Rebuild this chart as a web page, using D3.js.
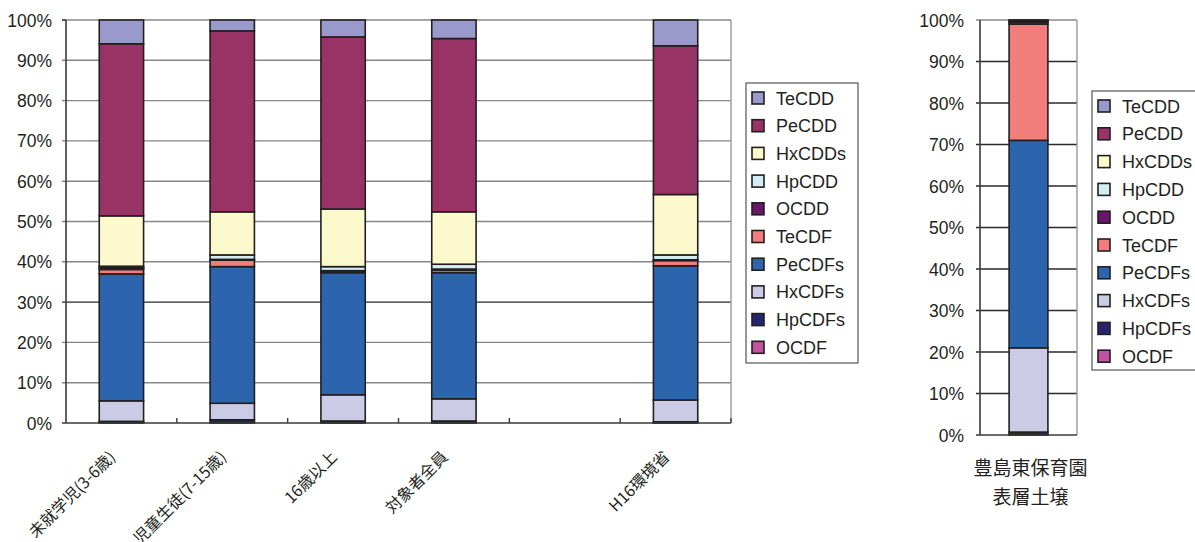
<!DOCTYPE html>
<html><head><meta charset="utf-8">
<script src="https://cdn.jsdelivr.net/npm/d3@7/dist/d3.min.js"></script>
<style>
body{margin:0;background:#fff;}
svg{display:block;}
text{fill:#231F20;}
</style></head>
<body>
<svg id="c" width="1195" height="542"></svg>
<script>
// ---------- data ----------
const categories = ["未就学児(3-6歳)", "児童生徒(7-15歳)", "16歳以上", "対象者全員", "", "H16環境省"];
// series listed bottom-to-top of stack (values in % of total)
const seriesNames = ["OCDF", "HpCDFs", "HxCDFs", "PeCDFs", "TeCDF", "OCDD", "HpCDD", "HxCDDs", "PeCDD", "TeCDD"];
const OCDF   = [0.1, 0.1, 0.1, 0.1, 0, 0.1];
const HpCDFs = [0.3, 0.7, 0.4, 0.4, 0, 0.2];
const HxCDFs = [5.1, 4.1, 6.5, 5.5, 0, 5.4];
const PeCDFs = [31.5, 33.9, 30.3, 31.3, 0, 33.3];
const TeCDF  = [1.1, 1.6, 0.3, 0.6, 0, 1.3];
const OCDD   = [0.4, 0.2, 0.2, 0.3, 0, 0.2];
const HpCDD  = [0.4, 1.1, 1.0, 1.2, 0, 1.2];
const HxCDDs = [12.5, 10.7, 14.3, 13.0, 0, 15.0];
const PeCDD  = [42.7, 44.9, 42.7, 43.0, 0, 36.9];
const TeCDD  = [5.9, 2.7, 4.2, 4.6, 0, 6.4];

const soilCategory = ["豊島東保育園", "表層土壌"];
const soilValues = [0.1, 0.6, 20.3, 50.0, 28.0, 0.5, 0.1, 0.0, 0.3, 0.1]; // same order as seriesNames

const yTicks = [0, 10, 20, 30, 40, 50, 60, 70, 80, 90, 100];
const colors = {
  TeCDD: "#9999CC", PeCDD: "#993366", HxCDDs: "#FCF9CC", HpCDD: "#D2EEF2", OCDD: "#661866",
  TeCDF: "#F27D7D", PeCDFs: "#2C65AE", HxCDFs: "#CCCBE5", HpCDFs: "#25256E", OCDF: "#C153A3"
};
const seriesData = {OCDF, HpCDFs, HxCDFs, PeCDFs, TeCDF, OCDD, HpCDD, HxCDDs, PeCDD, TeCDD};

const svg = d3.select("#c");
const tickFont = "'Liberation Sans', Arial, sans-serif";
const cjkFont = "'Noto Sans CJK JP', sans-serif";

// ---------- left chart ----------
const L = {x0: 66, x1: 731, y0: 20, y1: 423};
const xL = d3.scaleBand().domain(d3.range(categories.length)).range([L.x0, L.x1]).paddingInner(0.6).paddingOuter(0.3);
const yL = d3.scaleLinear().domain([0, 100]).range([L.y1, L.y0]);

const gL = svg.append("g");
gL.selectAll("line.grid").data(yTicks.filter(d => d > 0)).join("line")
  .attr("x1", L.x0 - 4).attr("x2", L.x1).attr("y1", d => yL(d)).attr("y2", d => yL(d))
  .attr("stroke", d => d === 30 ? "#2a2a2a" : "#878787").attr("stroke-width", 1.4);
gL.append("line").attr("x1", L.x1).attr("x2", L.x1).attr("y1", L.y0).attr("y2", L.y1)
  .attr("stroke", "#9a9a9a").attr("stroke-width", 1.4);

const rowsL = categories.map((c, i) => {
  const r = {i};
  seriesNames.forEach(s => r[s] = seriesData[s][i]);
  return r;
});
const stack = d3.stack().keys(seriesNames);
const stackedL = stack(rowsL);
gL.selectAll("g.s").data(stackedL).join("g").attr("fill", d => colors[d.key])
  .selectAll("rect").data(d => d.filter(p => categories[p.data.i] !== "")).join("rect")
  .attr("x", p => xL(p.data.i)).attr("width", xL.bandwidth())
  .attr("y", p => yL(p[1])).attr("height", p => yL(p[0]) - yL(p[1]))
  .attr("stroke", "#231F20").attr("stroke-width", 1.6);

gL.append("line").attr("x1", L.x0).attr("x2", L.x0).attr("y1", L.y0).attr("y2", L.y1)
  .attr("stroke", "#3a3a3a").attr("stroke-width", 1.6);
gL.append("line").attr("x1", L.x0 - 4).attr("x2", L.x0).attr("y1", L.y0).attr("y2", L.y0)
  .attr("stroke", "#3a3a3a").attr("stroke-width", 1.4);
gL.append("line").attr("x1", L.x0 - 4).attr("x2", L.x1).attr("y1", L.y1).attr("y2", L.y1)
  .attr("stroke", "#3a3a3a").attr("stroke-width", 1.6);
const step = (L.x1 - L.x0) / categories.length;
gL.selectAll("line.xt").data(d3.range(1, categories.length + 1)).join("line")
  .attr("x1", d => L.x0 + d * step).attr("x2", d => L.x0 + d * step)
  .attr("y1", L.y1).attr("y2", L.y1 - 5).attr("stroke", "#3a3a3a").attr("stroke-width", 1.4);

gL.selectAll("text.yt").data(yTicks).join("text")
  .attr("x", 52).attr("y", d => yL(d) + 6.5).attr("text-anchor", "end")
  .attr("font-family", tickFont).attr("font-size", 17.5).text(d => d + "%");

gL.selectAll("text.xl").data(categories).join("text")
  .attr("text-anchor", "end").attr("font-family", cjkFont).attr("font-size", 16)
  .attr("transform", (d, i) => `translate(${xL(i) + xL.bandwidth() / 2 - 5},${458}) rotate(-45)`)
  .text(d => d);

function legend(x, y, w, h, sq, tx, ty0, dy) {
  const g = svg.append("g");
  g.append("rect").attr("x", x).attr("y", y).attr("width", w).attr("height", h)
    .attr("fill", "#fff").attr("stroke", "#555").attr("stroke-width", 1.2);
  const items = seriesNames.slice().reverse();
  items.forEach((s, k) => {
    const cy = ty0 + k * dy;
    g.append("rect").attr("x", sq).attr("y", cy - 6).attr("width", 12).attr("height", 12)
      .attr("fill", colors[s]).attr("stroke", "#231F20").attr("stroke-width", 1.6);
    g.append("text").attr("x", tx).attr("y", cy + 6.5).attr("font-family", tickFont)
      .attr("font-size", 18).text(s);
  });
}
legend(746, 83, 112, 280, 752, 776, 98, 27.7);

// ---------- right chart ----------
const R = {x0: 980, x1: 1077, y0: 20, y1: 435};
const xR = d3.scaleBand().domain([0]).range([R.x0, R.x1]).paddingInner(0.6).paddingOuter(0.3);
const yR = d3.scaleLinear().domain([0, 100]).range([R.y1, R.y0]);
const gR = svg.append("g");
gR.selectAll("line.grid").data(yTicks.filter(d => d > 0)).join("line")
  .attr("x1", R.x0 - 4).attr("x2", R.x1).attr("y1", d => yR(d)).attr("y2", d => yR(d))
  .attr("stroke", d => d === 100 ? "#8a8a8a" : "#2a2a2a").attr("stroke-width", 1.3);
gR.append("line").attr("x1", R.x1).attr("x2", R.x1).attr("y1", R.y0).attr("y2", R.y1)
  .attr("stroke", "#9a9a9a").attr("stroke-width", 1.4);
const rowR = {i: 0};
seriesNames.forEach((s, k) => rowR[s] = soilValues[k]);
const stackedR = stack([rowR]);
gR.selectAll("g.s").data(stackedR).join("g").attr("fill", d => colors[d.key])
  .selectAll("rect").data(d => d.filter(p => p[1] - p[0] > 0)).join("rect")
  .attr("x", xR(0)).attr("width", xR.bandwidth())
  .attr("y", p => yR(p[1])).attr("height", p => yR(p[0]) - yR(p[1]))
  .attr("stroke", "#231F20").attr("stroke-width", 1.6);
gR.append("line").attr("x1", R.x0).attr("x2", R.x0).attr("y1", R.y0).attr("y2", R.y1)
  .attr("stroke", "#3a3a3a").attr("stroke-width", 1.6);
gR.append("line").attr("x1", R.x0 - 4).attr("x2", R.x1).attr("y1", R.y1).attr("y2", R.y1)
  .attr("stroke", "#3a3a3a").attr("stroke-width", 1.6);
gR.selectAll("text.yt").data(yTicks).join("text")
  .attr("x", 964).attr("y", d => yR(d) + 6.5).attr("text-anchor", "end")
  .attr("font-family", tickFont).attr("font-size", 17.5).text(d => d + "%");
gR.selectAll("text.xl").data(soilCategory).join("text")
  .attr("x", (R.x0 + R.x1) / 2 + 2).attr("y", (d, i) => 475 + i * 29)
  .attr("text-anchor", "middle").attr("font-family", cjkFont).attr("font-size", 19).text(d => d);

legend(1092, 91, 120, 279, 1098, 1122, 106, 27.8);
</script>
</body></html>
